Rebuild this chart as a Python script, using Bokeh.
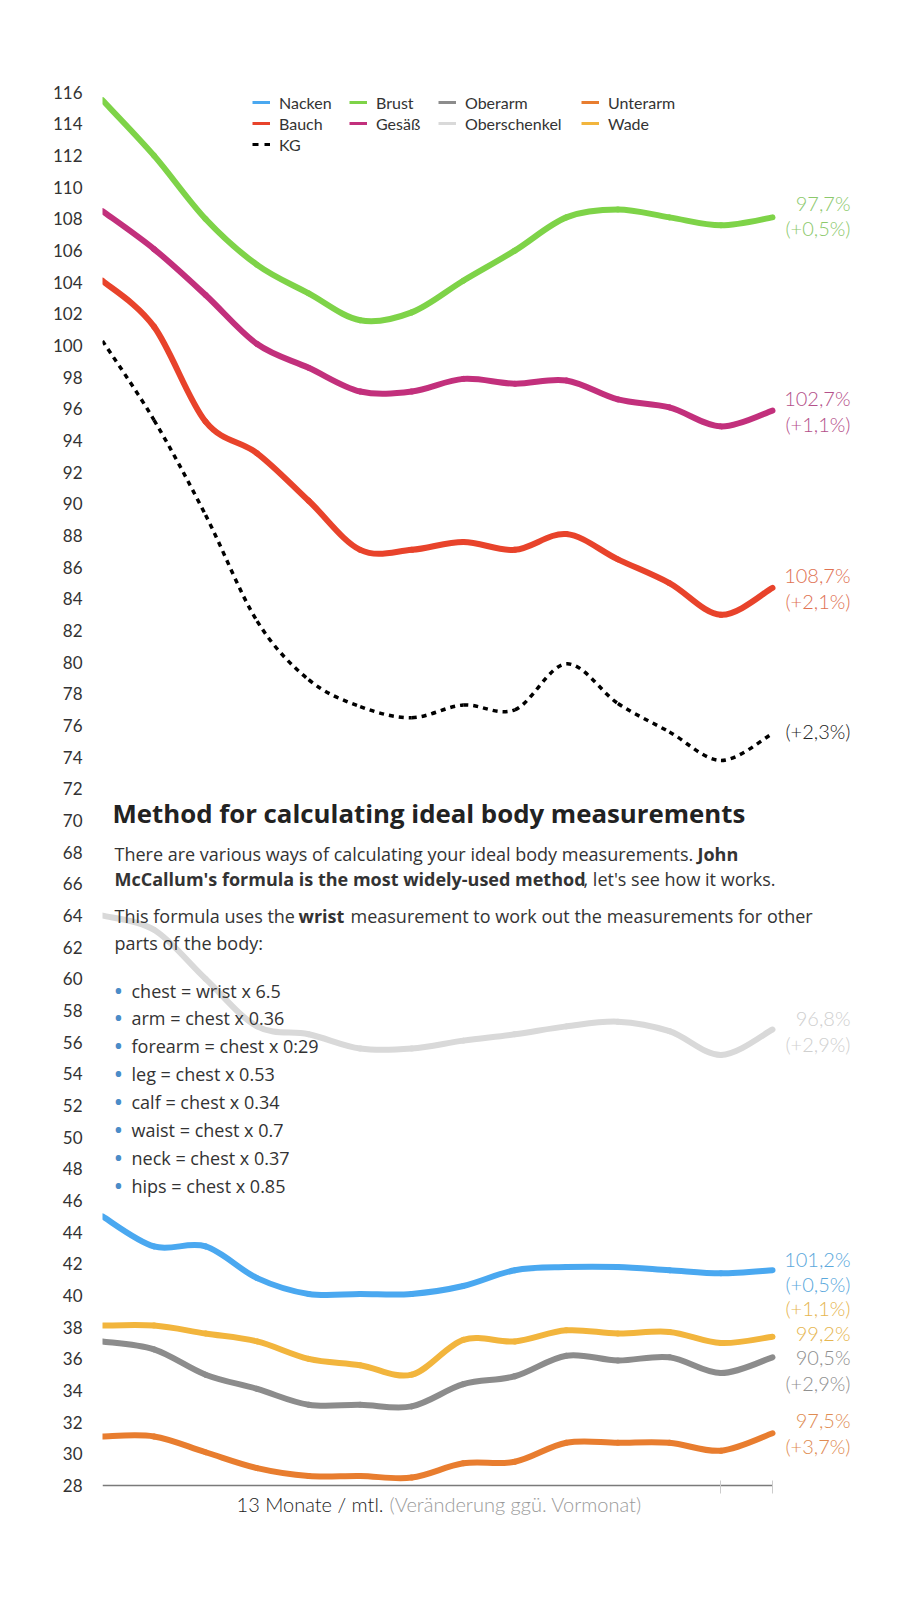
from bokeh.plotting import figure
from bokeh.models import (Range1d, FixedTicker, Legend, LegendItem, Label,
                          LabelSet, ColumnDataSource, CustomJSTickFormatter)
from bokeh.core.properties import value
from bokeh.embed import file_html
from bokeh.resources import INLINE

# ---------------- data ----------------
months = list(range(14))

nacken = [45.0, 43.1, 43.1, 41.1, 40.1, 40.1, 40.1, 40.6, 41.6, 41.8, 41.8, 41.6, 41.4, 41.6]
brust = [115.5, 112.0, 108.0, 105.1, 103.3, 101.6, 102.1, 104.1, 106.0, 108.1, 108.6, 108.1, 107.6, 108.1]
oberarm = [37.1, 36.6, 35.0, 34.1, 33.1, 33.1, 33.0, 34.4, 34.9, 36.2, 35.9, 36.1, 35.1, 36.1]
unterarm = [31.1, 31.1, 30.1, 29.1, 28.6, 28.6, 28.5, 29.4, 29.5, 30.7, 30.7, 30.7, 30.2, 31.3]
bauch = [104.1, 101.2, 95.2, 93.2, 90.2, 87.1, 87.1, 87.6, 87.1, 88.1, 86.5, 85.0, 83.0, 84.7]
gesaess = [108.5, 106.1, 103.2, 100.1, 98.6, 97.1, 97.1, 97.9, 97.6, 97.8, 96.6, 96.1, 94.9, 95.9]
oberschenkel = [64.0, 63.1, 60.0, 57.0, 56.5, 55.6, 55.6, 56.1, 56.5, 57.0, 57.3, 56.7, 55.2, 56.8]
wade = [38.1, 38.1, 37.6, 37.1, 36.0, 35.6, 35.0, 37.2, 37.1, 37.8, 37.6, 37.7, 37.0, 37.4]
kg = [100.3, 95.3, 89.3, 82.6, 78.9, 77.2, 76.5, 77.3, 77.0, 79.9, 77.4, 75.6, 73.8, 75.5]

y_ticks = list(range(28, 117, 2))
x_ticks = [12, 13]

end_label_text = ["97,7%", "(+0,5%)", "102,7%", "(+1,1%)", "108,7%", "(+2,1%)",
                  "(+2,3%)", "96,8%", "(+2,9%)", "101,2%", "(+0,5%)", "(+1,1%)",
                  "99,2%", "90,5%", "(+2,9%)", "97,5%", "(+3,7%)"]
end_label_y = [109.0, 107.45, 96.67, 95.06, 85.5, 83.85, 75.66, 57.5, 55.9,
               42.28, 40.7, 39.24, 37.63, 36.09, 34.47, 32.14, 30.5]
end_label_color = ["#8cc96c", "#8cc96c", "#b4508a", "#b4508a", "#e07252", "#e07252",
                   "#222222", "#cfcfcf", "#cfcfcf", "#5aa8dc", "#5aa8dc", "#e6b650",
                   "#e6b650", "#8f8f8f", "#8f8f8f", "#e08c52", "#e08c52"]

title_text = "Method for calculating ideal body measurements"
bullet_items = ["chest = wrist x 6.5", "arm = chest x 0.36", "forearm = chest x 0:29",
                "leg = chest x 0.53", "calf = chest x 0.34", "waist = chest x 0.7",
                "neck = chest x 0.37", "hips = chest x 0.85"]

# name, values, colour, dash
series = [
    ("Oberschenkel", oberschenkel, "#d9d9d9", "solid"),
    ("Unterarm", unterarm, "#e87d2f", "solid"),
    ("Oberarm", oberarm, "#8c8c8c", "solid"),
    ("Wade", wade, "#f2b53d", "solid"),
    ("Nacken", nacken, "#4aa8f0", "solid"),
    ("KG", kg, "#000000", "5 5"),
    ("Bauch", bauch, "#e8432b", "solid"),
    ("Gesäß", gesaess, "#c2307c", "solid"),
    ("Brust", brust, "#7ed348", "solid"),
]

LIGHT = "'Lato Light', Lato"

# ---------------- figure ----------------
W, H = 901, 1600
FL, FT = 102, 76            # frame left / top in page pixels
X0, X13, Y28 = 102, 772, 1485  # page pixels of x=0, x=13, y=28
PXX = (X13 - X0) / 13.0
PXY = (Y28 - FT) / 89.0
x_end = (W - FL) / PXX
y_start = 28 - (H - Y28) / PXY

p = figure(width=W, height=H, output_backend="svg", toolbar_location=None,
           x_range=Range1d(0, x_end), y_range=Range1d(y_start, 117),
           min_border_left=FL, min_border_right=0,
           min_border_top=FT, min_border_bottom=0)
p.outline_line_color = None
p.xgrid.visible = False
p.ygrid.visible = False
p.background_fill_color = "white"
p.border_fill_color = "white"

# axes
p.yaxis.ticker = FixedTicker(ticks=y_ticks)
p.yaxis.axis_line_color = None
p.yaxis.major_tick_line_color = None
p.yaxis.minor_tick_line_color = None
p.yaxis.major_tick_out = 0
p.yaxis.major_tick_in = 0
p.yaxis.major_label_standoff = 20
p.yaxis.major_label_text_font = "Lato"
p.yaxis.major_label_text_font_size = "17px"
p.yaxis.major_label_text_color = "#333333"

p.xaxis.fixed_location = 28
p.xaxis.bounds = (0, 13)
p.xaxis.ticker = FixedTicker(ticks=x_ticks)
p.xaxis.axis_line_color = "#7a7a7a"
p.xaxis.axis_line_width = 1.5
p.xaxis.major_tick_line_color = "#cccccc"
p.xaxis.major_tick_in = 5
p.xaxis.major_tick_out = 8
p.xaxis.minor_tick_line_color = None
p.xaxis.formatter = CustomJSTickFormatter(code="return ''")


def bezier_data(xs, ys):
    n = len(xs)
    d = dict(x0=[], y0=[], x1=[], y1=[], cx0=[], cy0=[], cx1=[], cy1=[])
    for i in range(n - 1):
        im, ip = max(i - 1, 0), min(i + 2, n - 1)
        d["x0"].append(xs[i]); d["y0"].append(ys[i])
        d["x1"].append(xs[i + 1]); d["y1"].append(ys[i + 1])
        d["cx0"].append(xs[i] + (xs[i + 1] - xs[im]) / 6.0)
        d["cy0"].append(ys[i] + (ys[i + 1] - ys[im]) / 6.0)
        d["cx1"].append(xs[i + 1] - (xs[ip] - xs[i]) / 6.0)
        d["cy1"].append(ys[i + 1] - (ys[ip] - ys[i]) / 6.0)
    return ColumnDataSource(d)


legend_renderers = {}
for name, vals, color, dash in series:
    if dash == "solid":
        p.bezier(x0="x0", y0="y0", x1="x1", y1="y1", cx0="cx0", cy0="cy0",
                 cx1="cx1", cy1="cy1", source=bezier_data(months, vals),
                 line_color=color, line_width=6, line_cap="round")
        leg = p.line(months, vals, line_color=color, line_width=3, visible=False)
    else:
        p.bezier(x0="x0", y0="y0", x1="x1", y1="y1", cx0="cx0", cy0="cy0",
                 cx1="cx1", cy1="cy1", source=bezier_data(months, vals),
                 line_color=color, line_width=3.5, line_dash=dash, line_cap="butt")
        leg = p.line(months, vals, line_color=color, line_width=3,
                     line_dash="6 6", visible=False)
    legend_renderers[name] = leg

# legends: four columns
legend_cols = [(252, ["Nacken", "Bauch", "KG"]), (349, ["Brust", "Gesäß"]),
               (438, ["Oberarm", "Oberschenkel"]), (581, ["Unterarm", "Wade"])]
ROW_H, ROW_SP, LEG_TOP = 20, 1, 92
for gx, names in legend_cols:
    n = len(names)
    h = n * ROW_H + (n - 1) * ROW_SP
    lg = Legend(items=[LegendItem(label=nm, renderers=[legend_renderers[nm]]) for nm in names],
                location=(gx - FL, H - LEG_TOP - h), orientation="vertical",
                border_line_color=None, background_fill_alpha=0, padding=0, margin=0,
                spacing=ROW_SP, label_standoff=9, glyph_width=18, glyph_height=ROW_H,
                label_height=ROW_H, label_text_font="Lato", label_text_font_size="16px",
                label_text_color="#333333", click_policy="none")
    p.add_layout(lg)

# end-of-line labels
end_src = ColumnDataSource(dict(x=[13] * len(end_label_text), y=end_label_y,
                                text=end_label_text, color=end_label_color))
p.add_layout(LabelSet(x="x", y="y", text="text", source=end_src, x_offset=78,
                      text_align="right", text_baseline="middle", text_color="color",
                      text_font=value(LIGHT), text_font_size=value("20px")))


def page_text(txt, X, Y, size="18px", bold=False, color="#333333", font="Open Sans",
              align="left"):
    p.add_layout(Label(x=X - FL, y=H - Y, x_units="screen", y_units="screen", text=txt,
                       text_font=font, text_font_size=size,
                       text_font_style="bold" if bold else "normal",
                       text_color=color, text_align=align, text_baseline="middle"))


# text block
page_text(title_text, 112, 812, size="25.8px", bold=True, color="#222222")
page_text("There are various ways of calculating your ideal body measurements.", 114, 853)
page_text("John", 697, 853, bold=True)
page_text("McCallum's formula is the most widely-used method", 114, 878, bold=True)
page_text(", let's see how it works.", 583, 878)
page_text("This formula uses the", 114, 915)
page_text("wrist", 298, 915, bold=True)
page_text("measurement to work out the measurements for other", 350, 915)
page_text("parts of the body:", 114, 942)
for k, item in enumerate(bullet_items):
    yy = 990 + k * 27.9
    page_text("•", 118, yy - 1, size="26px", color="#4a8cc8", align="center")
    page_text(item, 131, yy)

# x-axis caption
page_text("13 Monate / mtl.", 383, 1503, size="20px", font=LIGHT, color="#222222",
          align="right")
page_text("(Veränderung ggü. Vormonat)", 389, 1503, size="20px", font=LIGHT,
          color="#9a9a9a")

open("out.html", "w").write(file_html(p, INLINE))
